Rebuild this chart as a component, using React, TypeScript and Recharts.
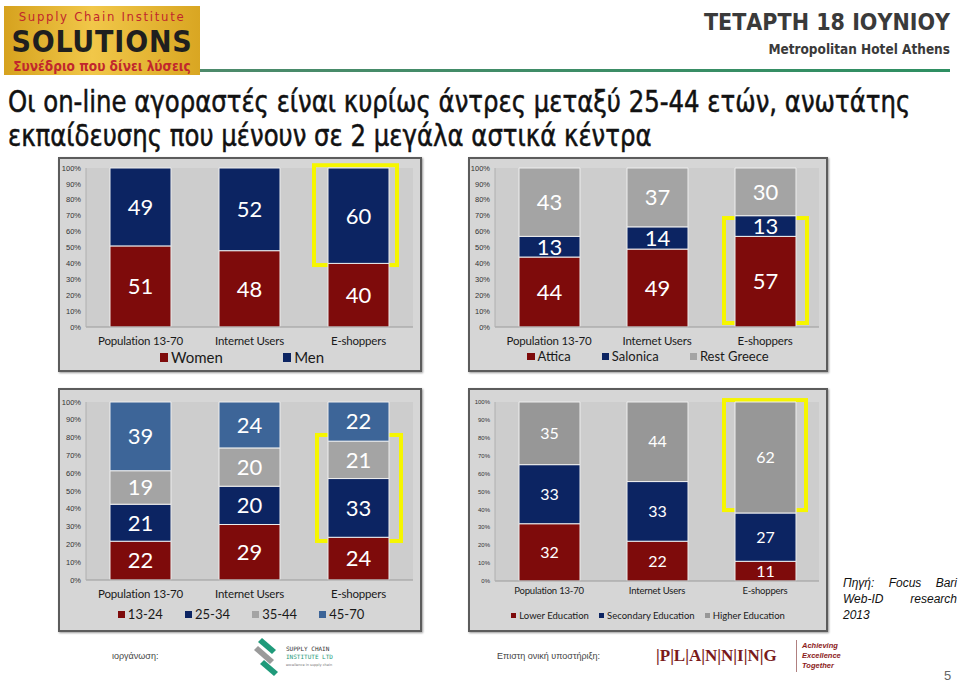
import React from 'react';
import { BarChart, Bar, XAxis, YAxis, CartesianGrid, LabelList, ReferenceArea } from 'recharts';

const categories = ['Population 13-70', 'Internet Users', 'E-shoppers'];
const pctTicks = [0, 0.1, 0.2, 0.3, 0.4, 0.5, 0.6, 0.7, 0.8, 0.9, 1];

// gender
const women = [51, 48, 40];
const men = [49, 52, 60];
// region
const attica = [44, 49, 57];
const salonica = [13, 14, 13];
const restGreece = [43, 37, 30];
// age
const age1324 = [22, 29, 24];
const age2534 = [21, 20, 33];
const age3544 = [19, 20, 21];
const age4570 = [39, 24, 22];
// education
const lowerEdu = [32, 22, 11];
const secondaryEdu = [33, 33, 27];
const higherEdu = [35, 44, 62];

const RED = '#7e0b0b';
const NAVY = '#0c2462';
const GRAY = '#a4a4a4';
const STEEL = '#3d6598';
const FONT = 'Lato, "Liberation Sans", sans-serif';

function table(cols: Record<string, number[]>) {
  return categories.map((category, i) => {
    const row: any = { category };
    Object.keys(cols).forEach(k => (row[k] = cols[k][i]));
    return row;
  });
}

interface Series { key: string; name: string; color: string; }

interface PanelProps {
  left: number; top: number; width: number; height: number;
  data: any[];
  series: Series[];
  margin: { top: number; right: number; bottom: number };
  yWidth: number;
  xHeight: number;
  tickMargin: number;
  labelSize: number;
  catSize: number;
  tickSize: number;
  hl: { y1: number; y2: number; l: number; r: number };
  legendTop: number;
  legendGap: number;
  legendSize: number;
  legendShift: number;
}

function StackPanel(p: PanelProps) {
  const inner = { w: p.width - 4, h: p.height - 4 };
  // yellow frame around the highlighted E-shoppers segment
  const highlight = (s: any) => (
    <rect
      x={s.x + p.hl.l + 2}
      y={s.y + 2}
      width={s.width - p.hl.l - p.hl.r - 4}
      height={s.height - 4}
      fill="none"
      stroke="#f6f600"
      strokeWidth={4}
    />
  );
  return (
    <div
      style={{
        position: 'absolute', left: p.left, top: p.top, width: inner.w, height: inner.h,
        border: '2px solid #5c5c5c', background: '#d6d6d6', boxShadow: '1px 1px 2px #999',
      }}
    >
      <BarChart
        width={inner.w}
        height={inner.h}
        data={p.data}
        stackOffset="expand"
        barSize={61}
        margin={{ top: p.margin.top, right: p.margin.right, bottom: p.margin.bottom, left: 0 }}
      >
        <CartesianGrid horizontal={false} vertical={false} fill="#cdcdcd" />
        <XAxis
          dataKey="category"
          tickLine={false}
          axisLine={{ stroke: '#9a9a9a' }}
          height={p.xHeight}
          tickMargin={p.tickMargin}
          tick={{ fontSize: p.catSize, fill: '#1a1a1a', fontFamily: FONT, letterSpacing: -0.2 }}
          interval={0}
        />
        <YAxis
          type="number"
          domain={[0, 1]}
          ticks={pctTicks}
          width={p.yWidth}
          tickLine={false}
          tickSize={4}
          tickMargin={1}
          axisLine={{ stroke: '#b0b0b0' }}
          tickFormatter={(v: number) => `${Math.round(v * 100)}%`}
          tick={{ fontSize: p.tickSize, fill: '#333', fontFamily: '"Liberation Sans", sans-serif' }}
        />
        {p.series.map(s => (
          <Bar key={s.key} dataKey={s.key} name={s.name} stackId="a" fill={s.color}
            stroke="#eeeeee" strokeWidth={1} isAnimationActive={false}>
            <LabelList dataKey={s.key} position="center" fill="#ffffff"
              fontSize={p.labelSize} fontFamily={FONT} />
          </Bar>
        ))}
        <ReferenceArea x1="E-shoppers" x2="E-shoppers" y1={p.hl.y1} y2={p.hl.y2}
          ifOverflow="visible" shape={highlight} />
      </BarChart>
      <div
        style={{
          position: 'absolute', top: p.legendTop, left: p.legendShift, width: inner.w,
          display: 'flex', justifyContent: 'center', gap: p.legendGap,
          fontFamily: FONT, fontSize: p.legendSize, color: '#1a1a1a', lineHeight: 1,
        }}
      >
        {p.series.map(s => (
          <div key={s.key} style={{ display: 'flex', alignItems: 'center', gap: 3 }}>
            <span style={{ width: p.legendSize * 0.55, height: p.legendSize * 0.55, background: s.color, display: 'inline-block' }} />
            <span>{s.name}</span>
          </div>
        ))}
      </div>
    </div>
  );
}

function Header() {
  return (
    <>
      <div
        style={{
          position: 'absolute', left: 4, top: 6, width: 196, height: 69,
          background: 'linear-gradient(90deg, #d6a21e 0%, #f1c749 45%, #d9a622 100%)',
          fontFamily: '"DejaVu Sans Condensed", "DejaVu Sans", sans-serif', textAlign: 'center',
        }}
      >
        <div style={{ color: '#c1272d', fontSize: 13, lineHeight: '15px', marginTop: 3, letterSpacing: 1.7 }}>Supply Chain Institute</div>
        <div style={{ color: '#1f1f1f', fontSize: 30, fontWeight: 'bold', lineHeight: '35px', letterSpacing: 0.8 }}>SOLUTIONS</div>
        <div style={{ color: '#c1272d', fontSize: 13.5, lineHeight: '15px', fontWeight: 'bold' }}>Συνέδριο που δίνει λύσεις</div>
      </div>
      <div style={{ position: 'absolute', left: 200, top: 69, width: 750, height: 3, background: 'linear-gradient(90deg, #4d8a6b, #2e8f62)' }} />
      <div
        style={{
          position: 'absolute', right: 10, top: 7, color: '#3a3a3a', textAlign: 'right',
          fontFamily: '"DejaVu Sans Condensed", sans-serif', fontWeight: 'bold',
        }}
      >
        <div style={{ fontSize: 23, lineHeight: '30px' }}>ΤΕΤΑΡΤΗ 18 ΙΟΥΝΙΟΥ</div>
        <div style={{ fontSize: 13.5, marginTop: 4 }}>Metropolitan Hotel Athens</div>
      </div>
      <div
        style={{
          position: 'absolute', left: 8, top: 84, color: '#111', fontSize: 31, lineHeight: '34px',
          fontFamily: '"DejaVu Sans Condensed", sans-serif', whiteSpace: 'nowrap',
          transform: 'scaleX(0.875)', transformOrigin: 'left top', WebkitTextStroke: '0.5px #111',
        }}
      >
        <div>Οι on-line αγοραστές είναι κυρίως άντρες μεταξύ 25-44 ετών, ανωτάτης</div>
        <div>εκπαίδευσης που μένουν σε 2 μεγάλα αστικά κέντρα</div>
      </div>
    </>
  );
}

function Footer() {
  return (
    <>
      <div style={{ position: 'absolute', left: 112, top: 651, fontSize: 9, color: '#444', fontFamily: '"Liberation Sans", sans-serif' }}>ιοργάνωση:</div>
      <svg style={{ position: 'absolute', left: 250, top: 636 }} width={100} height={46}>
        <path d="M12 2 L26 14 L22 18 L8 6 Z" fill="#1f9a7a" />
        <path d="M8 10 L24 24 L20 28 L4 14 Z" fill="#9a9a9a" />
        <path d="M14 24 L28 36 L24 40 L10 28 Z" fill="#1f9a7a" />
        <text x={36} y={15} fontSize={6} fill="#333" fontFamily="DejaVu Sans Mono">SUPPLY CHAIN</text>
        <text x={36} y={23} fontSize={6} fill="#1f9a7a" fontFamily="DejaVu Sans Mono">INSTITUTE LTD</text>
        <text x={36} y={30} fontSize={3.5} fill="#777" fontFamily="DejaVu Sans">excellence in supply chain</text>
      </svg>
      <div style={{ position: 'absolute', left: 497, top: 651, fontSize: 9, color: '#444', fontFamily: '"Liberation Sans", sans-serif' }}>Επιστη ονική υποστήριξη:</div>
      <div style={{ position: 'absolute', left: 656, top: 646, fontSize: 17, color: '#7a1a1a', fontFamily: '"Liberation Serif", serif', fontWeight: 'bold' }}>
        |P|L|A|N|N|I|N|G
      </div>
      <div style={{ position: 'absolute', left: 796, top: 640, width: 1, height: 32, background: '#b08080' }} />
      <div style={{ position: 'absolute', left: 802, top: 641, fontSize: 7.5, lineHeight: '10px', color: '#8b1a1a', fontStyle: 'italic', fontWeight: 'bold', fontFamily: '"Liberation Sans", sans-serif' }}>
        <div>Achieving</div><div>Excellence</div><div>Together</div>
      </div>
      <div style={{ position: 'absolute', left: 944, top: 668, fontSize: 13, color: '#666', fontFamily: '"Liberation Sans", sans-serif' }}>5</div>
      <div
        style={{
          position: 'absolute', left: 843, top: 575, width: 114, fontSize: 12, lineHeight: '16px',
          fontStyle: 'italic', textAlign: 'justify', color: '#111', fontFamily: '"Liberation Sans", sans-serif',
        }}
      >
        Πηγή: Focus Bari Web-ID research 2013
      </div>
    </>
  );
}

export default function App() {
  return (
    <div style={{ position: 'absolute', left: 0, top: 0, width: 960, height: 684, background: '#fff', overflow: 'hidden' }}>
      <Header />
      <StackPanel
        left={58} top={157} width={364} height={215}
        data={table({ women, men })}
        series={[{ key: 'women', name: 'Women', color: RED }, { key: 'men', name: 'Men', color: NAVY }]}
        margin={{ top: 9, right: 7, bottom: 23 }} yWidth={26} xHeight={20} tickMargin={4}
        labelSize={22} catSize={11.5} tickSize={7.5}
        hl={{ y1: 1.03, y2: 0.377, l: 8, r: 14 }}
        legendTop={191} legendGap={60} legendSize={15} legendShift={2}
      />
      <StackPanel
        left={468} top={157} width={360} height={215}
        data={table({ attica, salonica, restGreece })}
        series={[
          { key: 'attica', name: 'Attica', color: RED },
          { key: 'salonica', name: 'Salonica', color: NAVY },
          { key: 'restGreece', name: 'Rest Greece', color: GRAY },
        ]}
        margin={{ top: 9, right: 7, bottom: 23 }} yWidth={25} xHeight={20} tickMargin={4}
        labelSize={22} catSize={11.5} tickSize={7.5}
        hl={{ y1: 0.698, y2: 0.0126, l: 11, r: 10 }}
        legendTop={191} legendGap={31} legendSize={13} legendShift={0}
      />
      <StackPanel
        left={58} top={388} width={364} height={244}
        data={table({ age1324, age2534, age3544, age4570 })}
        series={[
          { key: 'age1324', name: '13-24', color: RED },
          { key: 'age2534', name: '25-34', color: NAVY },
          { key: 'age3544', name: '35-44', color: GRAY },
          { key: 'age4570', name: '45-70', color: STEEL },
        ]}
        margin={{ top: 12, right: 7, bottom: 30 }} yWidth={26} xHeight={20} tickMargin={4}
        labelSize={22} catSize={11.5} tickSize={7.5}
        hl={{ y1: 0.826, y2: 0.208, l: 11, r: 10 }}
        legendTop={218} legendGap={22} legendSize={13} legendShift={1}
      />
      <StackPanel
        left={468} top={388} width={360} height={244}
        data={table({ lowerEdu, secondaryEdu, higherEdu })}
        series={[
          { key: 'lowerEdu', name: 'Lower Education', color: RED },
          { key: 'secondaryEdu', name: 'Secondary Education', color: NAVY },
          { key: 'higherEdu', name: 'Higher Education', color: '#979797' },
        ]}
        margin={{ top: 12, right: 7, bottom: 29 }} yWidth={25} xHeight={20} tickMargin={0}
        labelSize={16} catSize={9.5} tickSize={6}
        hl={{ y1: 1.022, y2: 0.385, l: 11, r: 11 }}
        legendTop={221} legendGap={10} legendSize={9.5} legendShift={0}
      />
      <Footer />
    </div>
  );
}
